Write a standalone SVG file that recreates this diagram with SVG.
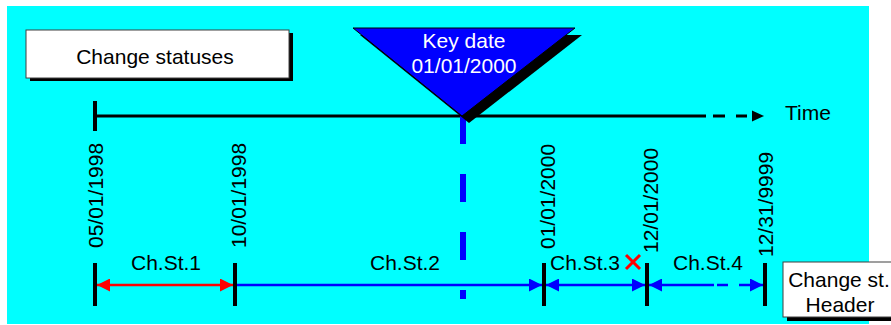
<svg xmlns="http://www.w3.org/2000/svg" width="891" height="325" viewBox="0 0 891 325">
<style>
text{font-family:"Liberation Sans",Arial,sans-serif;font-size:21px;fill:#000}
.tick{stroke:#000;stroke-width:4}
.box{fill:#fff;stroke:#404040;stroke-width:1}
.shadow{fill:#000}
.blue{stroke:#0000ff;stroke-width:2.5;fill:none}
.red{stroke:#ff0000;stroke-width:2.5;fill:none}
</style>
<defs>
<marker id="hb" viewBox="0 0 13 13" refX="13" refY="6.5" markerUnits="userSpaceOnUse" markerWidth="13" markerHeight="13" orient="auto-start-reverse"><path d="M0,0L13,6.5L0,13z" fill="#0000ff"/></marker>
<marker id="hr" viewBox="0 0 13 13" refX="13" refY="6.5" markerUnits="userSpaceOnUse" markerWidth="13" markerHeight="13" orient="auto-start-reverse"><path d="M0,0L13,6.5L0,13z" fill="#ff0000"/></marker>
</defs>
<rect x="0" y="0" width="891" height="325" fill="#fff"/>
<rect x="7" y="6" width="862" height="318" fill="#00ffff"/>

<g id="connectors">
  <line x1="95" y1="116" x2="706" y2="116" stroke="#000" stroke-width="3"/>
  <line x1="713" y1="116" x2="725" y2="116" stroke="#000" stroke-width="3"/>
  <line x1="736" y1="116" x2="747" y2="116" stroke="#000" stroke-width="3"/>
  <polygon points="752,110.5 764,116 752,121.5" fill="#000"/>
  <line x1="463" y1="116" x2="463" y2="299" stroke="#0000ff" stroke-width="6" stroke-dasharray="28 30"/>
  <line class="red" x1="97" y1="285" x2="233" y2="285" marker-start="url(#hr)" marker-end="url(#hr)"/>
  <line class="blue" x1="237" y1="285" x2="542" y2="285" marker-end="url(#hb)"/>
  <line class="blue" x1="546" y1="285" x2="645" y2="285" marker-start="url(#hb)" marker-end="url(#hb)"/>
  <line class="blue" x1="649" y1="285" x2="763" y2="285" stroke-dasharray="65 3 11 11 40" marker-start="url(#hb)" marker-end="url(#hb)"/>
</g>

<g id="change-statuses">
  <rect class="shadow" x="30" y="33" width="263" height="48"/>
  <rect class="box" x="26" y="30" width="263" height="48"/>
  <text x="155" y="64" text-anchor="middle">Change statuses</text>
</g>

<g id="key-date">
  <polygon class="shadow" points="360,35 582,35 469,123"/>
  <polygon points="353,28 575,28 462,116" fill="#0000ff" stroke="#000" stroke-width="1"/>
  <text x="464" y="48" text-anchor="middle" style="fill:#fff">Key date</text>
  <text x="464" y="73" text-anchor="middle" style="fill:#fff">01/01/2000</text>
</g>

<g id="time-label">
  <text x="785" y="120">Time</text>
</g>

<g id="start-tick">
  <line class="tick" x1="95" y1="101" x2="95" y2="131"/>
</g>

<g id="date-1">
  <line class="tick" x1="95" y1="263" x2="95" y2="306"/>
  <text transform="translate(103,248) rotate(-90)">05/01/1998</text>
</g>
<g id="date-2">
  <line class="tick" x1="235" y1="263" x2="235" y2="306"/>
  <text transform="translate(246,248) rotate(-90)">10/01/1998</text>
</g>
<g id="date-3">
  <line class="tick" x1="544" y1="263" x2="544" y2="306"/>
  <text transform="translate(555,249) rotate(-90)">01/01/2000</text>
</g>
<g id="date-4">
  <line class="tick" x1="647" y1="263" x2="647" y2="306"/>
  <text transform="translate(658,253) rotate(-90)">12/01/2000</text>
</g>
<g id="date-5">
  <line class="tick" x1="765" y1="263" x2="765" y2="306"/>
  <text transform="translate(773,257) rotate(-90)">12/31/9999</text>
</g>

<g id="chst-1"><text x="166" y="270" text-anchor="middle">Ch.St.1</text></g>
<g id="chst-2"><text x="405" y="270" text-anchor="middle">Ch.St.2</text></g>
<g id="chst-3">
  <text x="585" y="270" text-anchor="middle">Ch.St.3</text>
  <path d="M626,255L640,269M640,255L626,269" stroke="#ff0000" stroke-width="3"/>
</g>
<g id="chst-4"><text x="708" y="270" text-anchor="middle">Ch.St.4</text></g>

<g id="change-st-header">
  <rect class="shadow" x="787" y="266" width="120" height="55"/>
  <rect class="box" x="783" y="262" width="120" height="55"/>
  <text x="839" y="287" text-anchor="middle">Change st.</text>
  <text x="840" y="312" text-anchor="middle">Header</text>
</g>
</svg>
